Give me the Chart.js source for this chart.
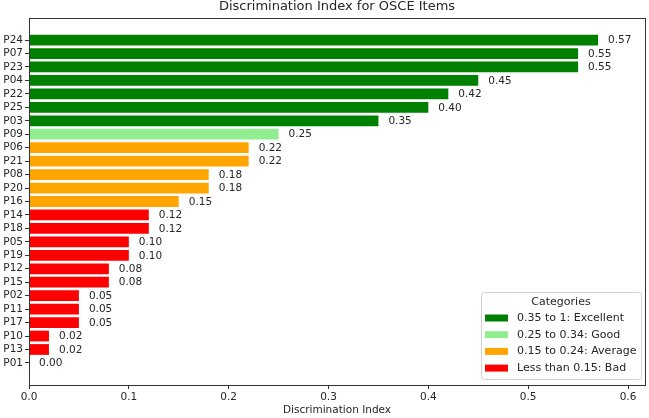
<!DOCTYPE html>
<html>
<head>
<meta charset="utf-8">
<script src="https://cdn.jsdelivr.net/npm/chart.js@4"></script>
<style>
  html, body { margin: 0; padding: 0; background: #fff; }
  #wrap { width: 649px; height: 418px; }
</style>
</head>
<body>
<div id="wrap"><canvas id="chart" width="649" height="418"></canvas></div>
<script>
// items from top to bottom
const items = ['P24', 'P07', 'P23', 'P04', 'P22', 'P25', 'P03', 'P09', 'P06', 'P21', 'P08', 'P20', 'P16',
  'P14', 'P18', 'P05', 'P19', 'P12', 'P15', 'P02', 'P11', 'P17', 'P10', 'P13', 'P01'];
const values = [0.57, 0.55, 0.55, 0.45, 0.42, 0.40, 0.35, 0.25, 0.22, 0.22, 0.18, 0.18, 0.15,
  0.12, 0.12, 0.10, 0.10, 0.08, 0.08, 0.05, 0.05, 0.05, 0.02, 0.02, 0.00];
const xTicks = [0, 0.1, 0.2, 0.3, 0.4, 0.5, 0.6];

const categoryNames = ['0.35 to 1: Excellent', '0.25 to 0.34: Good', '0.15 to 0.24: Average', 'Less than 0.15: Bad'];
const categoryMins = [0.35, 0.25, 0.15, -1];
const categoryColors = ['#008000', '#90ee90', '#ffa500', '#ff0000'];

const FONT = "'DejaVu Sans', sans-serif";
const TEXT = '#262626';

function colorFor(v) {
  for (let i = 0; i < categoryMins.length; i++) {
    if (v >= categoryMins[i] - 1e-9) return categoryColors[i];
  }
  return categoryColors[categoryColors.length - 1];
}

const points = values.map((v, i) => ({ x: v, y: i }));

// frame, title, value labels and legend
const extras = {
  id: 'extras',
  afterDatasetsDraw(chart) {
    const ctx = chart.ctx;
    const a = chart.chartArea;
    ctx.save();
    ctx.strokeStyle = '#333';
    ctx.lineWidth = 1;
    ctx.strokeRect(Math.round(a.left) + 0.5, Math.round(a.top) + 0.5,
      Math.round(a.right - a.left), Math.round(a.bottom - a.top));

    ctx.fillStyle = TEXT;
    ctx.font = '13px ' + FONT;
    ctx.textAlign = 'center';
    ctx.textBaseline = 'middle';
    ctx.fillText('Discrimination Index for OSCE Items', (a.left + a.right) / 2, 7);

    const meta = chart.getDatasetMeta(0);
    const xs = chart.scales.x;
    ctx.font = '10.5px ' + FONT;
    ctx.textAlign = 'left';
    meta.data.forEach((bar, i) => {
      ctx.fillText(values[i].toFixed(2), xs.getPixelForValue(values[i] + 0.01), bar.y + 0.5);
    });

    // legend
    const lx = 481, ly = 292, lw = 160, lh = 87;
    ctx.fillStyle = 'rgba(255,255,255,0.85)';
    ctx.strokeStyle = '#d0d0d0';
    ctx.beginPath();
    ctx.roundRect(lx + 0.5, ly + 0.5, lw, lh, 3);
    ctx.fill();
    ctx.stroke();
    ctx.font = '11px ' + FONT;
    ctx.fillStyle = TEXT;
    ctx.textAlign = 'center';
    ctx.fillText('Categories', lx + lw / 2, 302);
    ctx.textAlign = 'left';
    categoryNames.forEach((name, i) => {
      const y = 318 + i * 16.7;
      ctx.fillStyle = categoryColors[i];
      ctx.fillRect(485, y - 3.5, 23, 7);
      ctx.fillStyle = TEXT;
      ctx.fillText(name, 517, y);
    });
    ctx.restore();
  }
};

new Chart(document.getElementById('chart'), {
  type: 'bar',
  data: {
    datasets: [{
      data: points,
      backgroundColor: values.map(colorFor),
      borderWidth: 0,
      barPercentage: 0.8,
      categoryPercentage: 1
    }]
  },
  options: {
    indexAxis: 'y',
    responsive: false,
    animation: false,
    layout: { padding: { top: 18, right: 4, left: 0, bottom: 0 } },
    plugins: { legend: { display: false }, tooltip: { enabled: false } },
    scales: {
      x: {
        type: 'linear',
        min: 0,
        max: 0.617,
        afterBuildTicks: s => { s.ticks = xTicks.map(v => ({ value: v })); },
        afterFit: s => { s.height = 33; },
        ticks: {
          color: TEXT,
          font: { family: FONT, size: 10.5 },
          padding: 2,
          maxRotation: 0,
          callback: v => v.toFixed(1)
        },
        grid: { drawOnChartArea: false, tickLength: 4, color: '#333' },
        border: { display: false },
        title: {
          display: true,
          text: 'Discrimination Index',
          color: TEXT,
          font: { family: FONT, size: 10.5 },
          padding: { top: 0, bottom: 1 }
        }
      },
      y: {
        type: 'linear',
        reverse: true,
        offset: false,
        min: -1.64,
        max: items.length - 1 + 1.64,
        afterBuildTicks: s => { s.ticks = items.map((_, i) => ({ value: i })); },
        afterFit: s => { s.width = 29; },
        ticks: {
          color: TEXT,
          font: { family: FONT, size: 10.5 },
          padding: 2,
          autoSkip: false,
          callback: v => items[v]
        },
        grid: { drawOnChartArea: false, offset: false, tickLength: 4, color: '#333' },
        border: { display: false }
      }
    }
  },
  plugins: [extras]
});
</script>
</body>
</html>
